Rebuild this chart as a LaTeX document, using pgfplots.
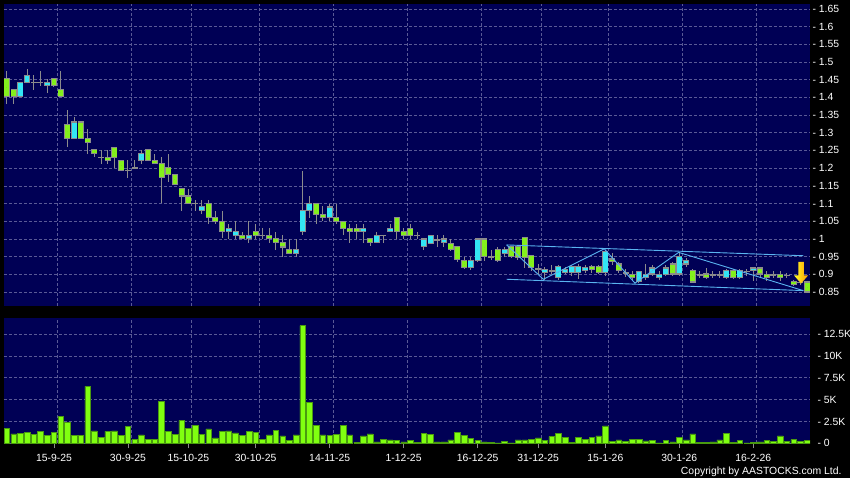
\documentclass[border=0pt]{standalone}
\usepackage{fontspec}
\setmainfont{Liberation Sans}
\usepackage{pgfplots}
\usepackage{pgfplotstable}
\pgfplotsset{compat=1.18}
\definecolor{navy}{HTML}{000055}
\definecolor{gridc}{HTML}{5A5A96}
\definecolor{cgreen}{HTML}{84F01C}
\definecolor{ccyan}{HTML}{33E6F5}
\definecolor{cedge}{HTML}{8C8C8C}
\definecolor{vgreen}{HTML}{80FF10}
\definecolor{vedge}{HTML}{4A9A10}
\definecolor{trend}{HTML}{5AB4F0}

% candles: index, low, high, body top, body bottom
\pgfplotstableread{
i lo hi bt bb
0 1.382 1.474 1.453 1.403
1 1.382 1.422 1.422 1.403
7 1.428 1.453 1.453 1.433
8 1.403 1.474 1.422 1.403
9 1.260 1.363 1.323 1.283
11 1.283 1.330 1.330 1.283
12 1.241 1.311 1.283 1.272
13 1.231 1.252 1.252 1.241
15 1.212 1.252 1.231 1.222
16 1.201 1.259 1.259 1.231
17 1.194 1.222 1.222 1.194
21 1.222 1.252 1.252 1.222
22 1.212 1.241 1.222 1.212
23 1.101 1.231 1.212 1.173
24 1.161 1.241 1.201 1.181
25 1.153 1.181 1.181 1.153
26 1.080 1.142 1.142 1.121
27 1.101 1.142 1.121 1.101
30 1.041 1.110 1.100 1.060
31 1.041 1.080 1.060 1.050
32 1.003 1.080 1.050 1.022
35 1.001 1.020 1.010 1.001
37 1.001 1.041 1.020 1.010
39 0.989 1.030 1.010 1.001
40 0.970 1.020 1.001 0.989
41 0.950 1.010 0.989 0.977
42 0.959 1.001 0.970 0.959
46 1.041 1.100 1.100 1.069
47 1.050 1.092 1.069 1.060
49 1.041 1.100 1.060 1.050
50 1.010 1.050 1.050 1.030
51 0.989 1.041 1.030 1.020
52 1.001 1.041 1.030 1.020
54 0.980 1.001 1.001 0.989
58 1.001 1.060 1.060 1.020
59 1.001 1.030 1.020 1.010
60 1.001 1.041 1.030 1.010
66 0.965 1.000 0.988 0.969
67 0.935 0.978 0.978 0.941
68 0.915 0.950 0.938 0.919
71 0.938 1.000 1.000 0.950
73 0.935 0.978 0.969 0.938
75 0.945 0.978 0.978 0.950
76 0.940 0.981 0.978 0.947
77 0.919 1.003 1.003 0.947
78 0.910 0.953 0.953 0.919
87 0.905 0.925 0.921 0.914
88 0.900 0.925 0.921 0.906
90 0.925 0.960 0.943 0.936
91 0.905 0.935 0.929 0.911
93 0.885 0.908 0.899 0.891
99 0.895 0.936 0.929 0.901
102 0.875 0.915 0.910 0.878
104 0.888 0.918 0.901 0.891
108 0.888 0.915 0.910 0.891
112 0.890 0.920 0.918 0.901
113 0.880 0.908 0.899 0.891
115 0.880 0.908 0.899 0.891
117 0.868 0.885 0.880 0.871
119 0.847 0.880 0.878 0.850
}\greentab

\pgfplotstableread{
i lo hi bt bb
2 1.403 1.442 1.442 1.403
3 1.442 1.481 1.462 1.442
6 1.413 1.453 1.442 1.433
10 1.283 1.344 1.330 1.283
20 1.212 1.252 1.241 1.222
29 1.071 1.110 1.092 1.080
33 1.001 1.041 1.030 1.020
34 1.001 1.050 1.020 1.010
36 0.989 1.050 1.010 1.001
43 0.950 1.001 0.970 0.959
44 1.010 1.192 1.081 1.020
45 1.060 1.121 1.100 1.081
48 1.050 1.100 1.090 1.060
53 0.989 1.041 1.030 1.020
55 0.989 1.020 1.010 0.989
57 1.020 1.041 1.030 1.020
62 0.969 1.000 1.000 0.978
63 0.985 1.010 1.009 0.988
65 0.978 1.010 1.000 0.991
69 0.912 0.950 0.938 0.919
70 0.935 1.000 1.000 0.938
74 0.950 0.978 0.969 0.959
80 0.885 0.921 0.914 0.906
82 0.885 0.925 0.921 0.890
83 0.900 0.921 0.914 0.906
84 0.895 0.925 0.921 0.906
85 0.888 0.930 0.921 0.906
86 0.905 0.925 0.919 0.912
89 0.895 0.969 0.964 0.906
94 0.875 0.910 0.908 0.880
95 0.885 0.930 0.899 0.891
96 0.895 0.925 0.918 0.901
97 0.885 0.908 0.899 0.891
98 0.895 0.925 0.918 0.899
100 0.895 0.960 0.950 0.901
101 0.920 0.947 0.938 0.929
107 0.888 0.915 0.910 0.891
109 0.888 0.915 0.910 0.891
111 0.880 0.918 0.918 0.910
}\cyantab

\pgfplotstableread{
i lo hi bt bb
4 1.422 1.462 1.442 1.442
5 1.431 1.474 1.442 1.442
14 1.212 1.252 1.231 1.231
18 1.173 1.222 1.194 1.194
19 1.201 1.222 1.201 1.201
28 1.080 1.110 1.101 1.101
38 1.001 1.030 1.010 1.010
56 0.989 1.010 1.010 1.010
61 1.001 1.020 1.010 1.010
64 0.978 1.010 0.997 0.997
72 0.941 0.969 0.950 0.950
79 0.900 0.930 0.915 0.915
81 0.900 0.925 0.910 0.910
92 0.893 0.915 0.905 0.905
103 0.890 0.910 0.899 0.899
105 0.890 0.908 0.899 0.899
106 0.890 0.908 0.899 0.899
110 0.895 0.915 0.908 0.908
114 0.890 0.908 0.899 0.899
116 0.890 0.905 0.897 0.897
118 0.870 0.885 0.878 0.878
}\dojitab

% volume in thousands
\pgfplotstableread{
i v
0 1.67
1 1.07
2 1.14
3 1.29
4 0.99
5 1.33
6 0.91
7 1.26
8 3.08
9 2.40
10 0.88
11 0.88
12 6.51
13 1.41
14 0.72
15 1.37
16 1.41
17 0.91
18 1.90
19 0.49
20 0.95
21 0.46
22 0.42
23 4.76
24 1.37
25 1.03
26 2.63
27 1.67
28 2.05
29 0.99
30 1.64
31 0.61
32 1.37
33 1.41
34 1.18
35 0.91
36 1.33
37 1.22
38 0.49
39 0.95
40 1.52
41 0.84
42 0.34
43 0.95
44 13.47
45 4.64
46 2.02
47 0.95
48 0.88
49 1.03
50 2.02
51 0.95
52 0.11
53 0.84
54 1.07
55 0.15
56 0.42
57 0.38
58 0.34
59 0.15
60 0.34
61 0.08
62 1.14
63 0.99
64 0.15
65 0.15
66 0.38
67 1.22
68 0.88
69 0.53
70 0.30
71 0.15
72 0.11
73 0.04
74 0.23
75 0.04
76 0.38
77 0.38
78 0.46
79 0.61
80 0.30
81 0.76
82 1.10
83 0.68
84 0.11
85 0.68
86 0.46
87 0.68
88 0.84
89 1.98
90 0.19
91 0.38
92 0.23
93 0.49
94 0.46
95 0.27
96 0.34
97 0.04
98 0.34
99 0.15
100 0.72
101 0.38
102 1.07
103 0.11
104 0.11
105 0.15
106 0.38
107 1.10
108 0.11
109 0.30
110 0.04
111 0.08
112 0.15
113 0.30
114 0.23
115 0.84
116 0.23
117 0.42
118 0.23
119 0.34
}\voltab

\pgfplotsset{
  panel/.style={
    scale only axis, width=806pt,
    xmin=-0.425, xmax=119.43,
    axis background/.style={fill=navy},
    axis line style={draw=none},
    grid style={gridc, dash pattern=on 3pt off 2pt, line width=0.6pt},
    ticklabel style={text=white, font=\fontsize{10.4}{12}\selectfont},
    /pgf/number format/assume math mode=true,
    yticklabel pos=right, ytick style={draw=none},
    yticklabel style={anchor=west, xshift=-1pt},
    ymajorgrids,
  },
  nomark/.style={only marks, mark=none, mark size=0pt,
    mark options={draw=none, fill=none}},
  wick/.style={nomark, error bars/.cd, y dir=both, y explicit,
    error mark=none, error bar style={line width=1pt, cedge}},
  edge/.style={nomark, error bars/.cd, y dir=both, y explicit,
    error mark=none, error bar style={line width=6pt, cedge}},
  body/.style={nomark, error bars/.cd, y dir=both, y explicit,
    error mark=none, error bar style={line width=4.8pt, #1}},
}

\begin{document}
\begin{tikzpicture}
\fill[black] (0,0) rectangle (850pt,478pt);
\useasboundingbox (0,0) rectangle (850pt,478pt);

% price panel
\begin{axis}[panel,
  at={(4pt,172pt)}, anchor=south west, height=302pt,
  ymin=0.8105, ymax=1.6636,
  ytick={0.85,0.9,0.95,1,1.05,1.1,1.15,1.2,1.25,1.3,1.35,1.4,1.45,1.5,1.55,1.6,1.65},
  yticklabel={-\ \pgfmathprintnumber[fixed,precision=2]{\tick}},
  xtick={7.5,18.5,27.5,37.5,48.5,59.5,70.5,79.5,89.5,100.5,111.5},
  xticklabels={}, xtick style={draw=none}, xmajorgrids,
]
  % wicks
  \addplot[wick] table[x=i, y expr={(\thisrow{hi}+\thisrow{lo})/2},
    y error expr={(\thisrow{hi}-\thisrow{lo})/2}] {\greentab};
  \addplot[wick] table[x=i, y expr={(\thisrow{hi}+\thisrow{lo})/2},
    y error expr={(\thisrow{hi}-\thisrow{lo})/2}] {\cyantab};
  \addplot[wick] table[x=i, y expr={(\thisrow{hi}+\thisrow{lo})/2},
    y error expr={(\thisrow{hi}-\thisrow{lo})/2}] {\dojitab};
  % body outlines
  \addplot[edge] table[x=i, y expr={(\thisrow{bt}+\thisrow{bb})/2},
    y error expr={(\thisrow{bt}-\thisrow{bb})/2+0.0017}] {\greentab};
  \addplot[edge] table[x=i, y expr={(\thisrow{bt}+\thisrow{bb})/2},
    y error expr={(\thisrow{bt}-\thisrow{bb})/2+0.0017}] {\cyantab};
  \addplot[edge] table[x=i, y expr={(\thisrow{bt}+\thisrow{bb})/2},
    y error expr={(\thisrow{bt}-\thisrow{bb})/2+0.0017}] {\dojitab};
  % body fills
  \addplot[body=cgreen] table[x=i, y expr={(\thisrow{bt}+\thisrow{bb})/2},
    y error expr={max(0,(\thisrow{bt}-\thisrow{bb})/2-0.0017)}] {\greentab};
  \addplot[body=ccyan] table[x=i, y expr={(\thisrow{bt}+\thisrow{bb})/2},
    y error expr={max(0,(\thisrow{bt}-\thisrow{bb})/2-0.0017)}] {\cyantab};

  % channel and zigzag
  \addplot[trend, line width=0.9pt] coordinates {(74.33,0.983) (118.43,0.9525)};
  \addplot[trend, line width=0.9pt] coordinates {(74.33,0.886) (118.43,0.854)};
  \addplot[trend, line width=0.9pt] coordinates {(74.33,0.983) (79.77,0.886)
    (88.84,0.972) (93.4,0.875) (99.9,0.962) (118.43,0.854)};

  % down arrow
  \addplot[draw=none, left color=yellow!85!white, right color=orange!80!yellow]
    coordinates {(117.7,0.935) (118.5,0.935) (118.5,0.897) (119.15,0.897)
    (118.1,0.874) (117.05,0.897) (117.7,0.897)} -- cycle;
\end{axis}

% volume panel
\begin{axis}[panel,
  at={(4pt,34.7pt)}, anchor=south west, height=125pt,
  ymin=0, ymax=14.3,
  ytick={0,2.5,5,7.5,10,12.5},
  yticklabels={- 0,- 2.5K,- 5K,- 7.5K,- 10K,- 12.5K},
  xtick={7,18,27,37,48,59,70,79,89,100,111},
  xticklabels={15-9-25,30-9-25,15-10-25,30-10-25,14-11-25,1-12-25,16-12-25,31-12-25,15-1-26,30-1-26,16-2-26},
  xticklabel style={yshift=-2pt},
  xtick pos=bottom, tick align=outside, major tick length=5pt,
  xtick style={cedge, line width=0.8pt},
  extra x ticks={7.5,18.5,27.5,37.5,48.5,59.5,70.5,79.5,89.5,100.5,111.5},
  extra x tick labels={},
  extra x tick style={grid=major, tick style={draw=none}},
]
  \addplot[ybar, bar width=5.6pt, fill=vgreen, draw=vedge, line width=0.5pt]
    table[x=i, y=v] {\voltab};
\end{axis}

\node[anchor=base east, text=white, font=\fontsize{10.4}{12}\selectfont]
  at (845pt,3pt) {Copyright by AASTOCKS.com Ltd.};
\end{tikzpicture}
\end{document}
